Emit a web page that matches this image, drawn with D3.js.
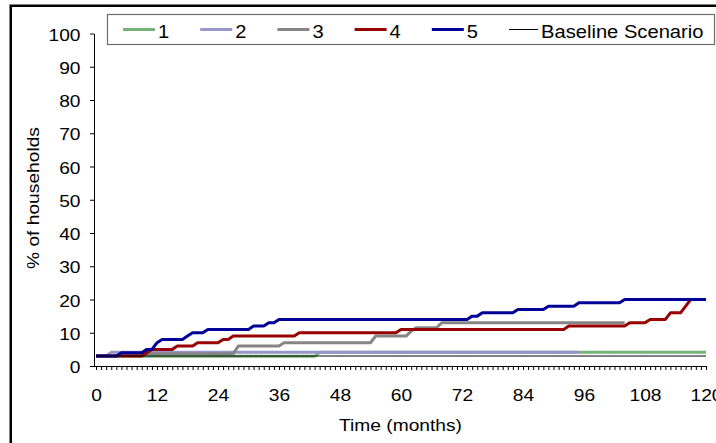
<!DOCTYPE html>
<html>
<head>
<meta charset="utf-8">
<script src="https://cdn.jsdelivr.net/npm/d3@7"></script>
<style>
  html, body { margin: 0; padding: 0; background: #fff; }
  text { font-family: "Liberation Sans", Arial, sans-serif; fill: #000; }
</style>
</head>
<body>
<svg id="chart" width="716" height="443"></svg>
<script>
// ---------------- data ----------------
const months = d3.range(0, 121);                 // categories: month 0 .. 120
const xTickLabels = [0, 12, 24, 36, 48, 60, 72, 84, 96, 108, 120];
const yTicks = [0, 10, 20, 30, 40, 50, 60, 70, 80, 90, 100];
const seriesNames = ["1", "2", "3", "4", "5", "Baseline Scenario"];
const seriesColors = ["#77b377", "#9696c8", "#858585", "#990000", "#000099", "#000000"];

const s1 = [
  2.9,2.9,2.9,2.9,2.9,2.9,2.9,2.9,2.9,2.9,2.9,2.9,
  2.9,2.9,2.9,2.9,2.9,2.9,2.9,2.9,2.9,2.9,2.9,2.9,
  2.9,2.9,2.9,2.9,2.9,2.9,2.9,2.9,2.9,2.9,2.9,2.9,
  2.9,2.9,2.9,2.9,2.9,2.9,2.9,2.9,4.1,4.1,4.1,4.1,
  4.1,4.1,4.1,4.1,4.1,4.1,4.1,4.1,4.1,4.1,4.1,4.1,
  4.1,4.1,4.1,4.1,4.1,4.1,4.1,4.1,4.1,4.1,4.1,4.1,
  4.1,4.1,4.1,4.1,4.1,4.1,4.1,4.1,4.1,4.1,4.1,4.1,
  4.1,4.1,4.1,4.1,4.1,4.1,4.1,4.1,4.1,4.1,4.1,4.1,
  4.1,4.1,4.1,4.1,4.1,4.1,4.1,4.1,4.1,4.1,4.1,4.1,
  4.1,4.1,4.1,4.1,4.1,4.1,4.1,4.1,4.1,4.1,4.1,4.1,
  4.1
];
const s2 = [
  3,3,3,4.1,4.1,4.1,4.1,4.1,4.1,4.1,4.1,4.1,
  4.1,4.1,4.1,4.1,4.1,4.1,4.1,4.1,4.1,4.1,4.1,4.1,
  4.1,4.1,4.1,4.1,4.1,4.1,4.1,4.1,4.1,4.1,4.1,4.1,
  4.1,4.1,4.1,4.1,4.1,4.1,4.1,4.1,4.1,4.1,4.1,4.1,
  4.1,4.1,4.1,4.1,4.1,4.1,4.1,4.1,4.1,4.1,4.1,4.1,
  4.1,4.1,4.1,4.1,4.1,4.1,4.1,4.1,4.1,4.1,4.1,4.1,
  4.1,4.1,4.1,4.1,4.1,4.1,4.1,4.1,4.1,4.1,4.1,4.1,
  4.1,4.1,4.1,4.1,4.1,4.1,4.1,4.1,4.1,4.1,4.1,4.1,
  null,null,null,null,null,null,null,null,null,null,null,null,
  null,null,null,null,null,null,null,null,null,null,null,null,
  null
];
const s3 = [
  3,3,3,3,3,3.7,3.7,3.7,3.7,3.7,3.7,3.7,
  3.7,3.7,3.7,3.7,3.7,3.7,3.7,3.7,3.7,3.7,3.7,3.7,
  3.7,3.7,3.7,3.7,6,6,6,6,6,6,6,6,
  6,7,7,7,7,7,7,7,7,7,7,7,
  7,7,7,7,7,7,7,9,9,9,9,9,
  9,9,10.5,11.5,11.5,11.5,11.5,11.5,13,13,13,13,
  13,13,13,13,13,13,13,13,13,13,13,13,
  13,13,13,13,13,13,13,13,13,13,13,13,
  13,13,13,13,13,13,13,13,13,null,null,null,
  null,null,null,null,null,null,null,null,null,null,null,null,
  null
];
const s4 = [
  3,3,3,3,3,3,3,3,3,3,4,5,
  5,5,5,5,6,6,6,6,7,7,7,7,
  7,8,8,9,9,9,9,9,9,9,9,9,
  9,9,9,9,10,10,10,10,10,10,10,10,
  10,10,10,10,10,10,10,10,10,10,10,10,
  11,11,11,11,11,11,11,11,11,11,11,11,
  11,11,11,11,11,11,11,11,11,11,11,11,
  11,11,11,11,11,11,11,11,11,12,12,12,
  12,12,12,12,12,12,12,12,12,13,13,13,
  13,14,14,14,14,16,16,16,18,20,20,20,
  20
];
const s5 = [
  3,3,3,3,3,4,4,4,4,4,5,5,
  7,8,8,8,8,8,9,10,10,10,11,11,
  11,11,11,11,11,11,11,12,12,12,13,13,
  14,14,14,14,14,14,14,14,14,14,14,14,
  14,14,14,14,14,14,14,14,14,14,14,14,
  14,14,14,14,14,14,14,14,14,14,14,14,
  14,14,15,15,16,16,16,16,16,16,16,17,
  17,17,17,17,17,18,18,18,18,18,18,19,
  19,19,19,19,19,19,19,19,20,20,20,20,
  20,20,20,20,20,20,20,20,20,20,20,20,
  20
];
const baseline = [
  3,3,3,3,3,3,3,3,3,3,3,3,
  3,3,3,3,3,3,3,3,3,3,3,3,
  3,3,3,3,3,3,3,3,3,3,3,3,
  3,3,3,3,3,3,3,3,3,3,3,3,
  3,3,3,3,3,3,3,3,3,3,3,3,
  3,3,3,3,3,3,3,3,3,3,3,3,
  3,3,3,3,3,3,3,3,3,3,3,3,
  3,3,3,3,3,3,3,3,3,3,3,3,
  3,3,3,3,3,3,3,3,3,3,3,3,
  3,3,3,3,3,3,3,3,3,3,3,3,
  3
];
const seriesValues = [s1, s2, s3, s4, s5, baseline];

// ---------------- drawing ----------------
const svg = d3.select("#chart");
const FONT = 17, SX = 1.13;

svg.append("rect").attr("width", 716).attr("height", 443).attr("fill", "#fff");
// outer chart border (runs off the right/bottom edge)
svg.append("rect").attr("x", 10.75).attr("y", 5.75).attr("width", 900).attr("height", 700)
  .attr("fill", "none").attr("stroke", "#000").attr("stroke-width", 2.5);

const x = d3.scaleLinear().domain([0, 120]).range([96, 706]);
const y = d3.scaleLinear().domain([0, 100]).range([366, 33.5]);

// y axis
const yAxis = svg.append("g").attr("transform", "translate(94,0)")
  .call(d3.axisLeft(y).tickValues(yTicks).tickSize(4).tickSizeOuter(0).tickFormat(d3.format("d")));
yAxis.attr("font-family", null).attr("font-size", null);
yAxis.select(".domain").attr("stroke", "#000");
yAxis.selectAll(".tick line").attr("stroke", "#000");
yAxis.selectAll(".tick text")
  .attr("x", 0).attr("dy", null).attr("y", 0)
  .attr("text-anchor", "end")
  .style("font-size", FONT + "px")
  .attr("transform", `translate(-13.5,6.5) scale(${SX},1)`);

// x axis
const xAxis = svg.append("g").attr("transform", "translate(0,366)")
  .call(d3.axisBottom(x).tickValues(months).tickSize(4).tickSizeOuter(0)
    .tickFormat(d => xTickLabels.includes(d) ? String(d) : ""));
xAxis.attr("font-family", null).attr("font-size", null);
xAxis.select(".domain").attr("stroke", "#000").attr("d", "M94,0.5H706.5");
xAxis.selectAll(".tick line").attr("stroke", "#000");
xAxis.selectAll(".tick text")
  .attr("dy", null).attr("y", 35)
  .style("font-size", FONT + "px")
  .attr("transform", `scale(${SX},1)`);

// axis titles
svg.append("text")
  .attr("transform", `translate(400.5,431) scale(${SX},1)`)
  .attr("text-anchor", "middle").style("font-size", FONT + "px")
  .text("Time (months)");
svg.append("text")
  .attr("transform", `translate(39,198) rotate(-90) scale(${SX},1)`)
  .attr("text-anchor", "middle").style("font-size", FONT + "px")
  .text("% of households");

// lines
const line = d3.line()
  .defined(d => d[1] !== null)
  .x(d => x(d[0]))
  .y(d => y(d[1]));

seriesValues.forEach((vals, i) => {
  svg.append("path")
    .datum(months.map((m, j) => [m, vals[j]]))
    .attr("d", line)
    .attr("fill", "none")
    .attr("stroke", seriesColors[i])
    .attr("stroke-width", i === 5 ? 1 : 3)
    .attr("stroke-linejoin", "round");
});

// legend
const leg = svg.append("g");
leg.append("rect").attr("x", 107.5).attr("y", 14.5).attr("width", 607).attr("height", 30)
  .attr("fill", "#fff").attr("stroke", "#6e6e6e").attr("stroke-width", 1.2);
const legX = d3.scaleLinear().domain([0, 5]).range([123, 509]);
seriesNames.forEach((name, i) => {
  const lx = legX(i);
  const len = i === 5 ? 29 : 32;
  leg.append("line").attr("x1", lx).attr("x2", lx + len).attr("y1", 29.5).attr("y2", 29.5)
    .attr("stroke", seriesColors[i]).attr("stroke-width", i === 5 ? 1 : 3);
  leg.append("text")
    .attr("transform", `translate(${lx + len + 3},38) scale(1.09,1)`)
    .style("font-size", "18.5px")
    .text(name);
});
</script>
</body>
</html>
